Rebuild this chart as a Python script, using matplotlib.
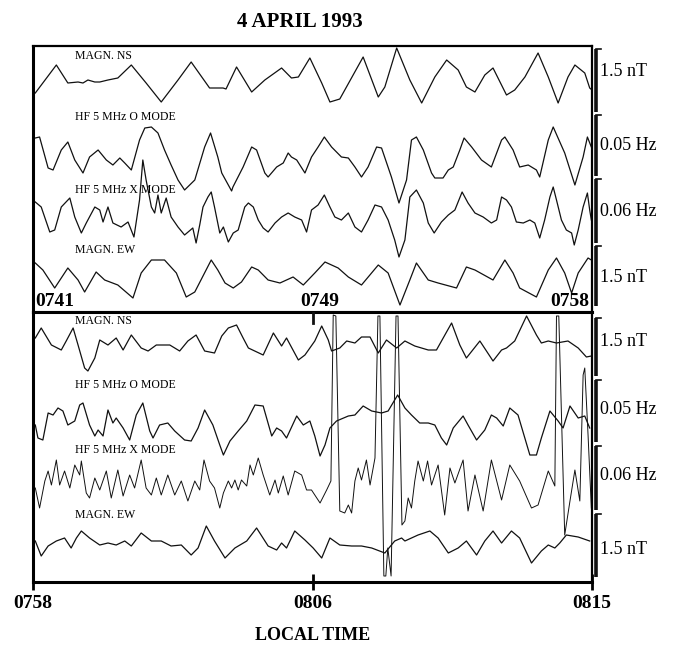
import matplotlib
matplotlib.use("Agg")
import matplotlib.pyplot as plt

# ---- data (time in minutes from panel start, amplitude in arbitrary units) ----
# top panel: 0741 - 0758
top_ns_t = [0.07, 0.71, 1.06, 1.37, 1.52, 1.67, 1.88, 2.03, 2.28, 2.58, 2.99, 3.44, 3.90, 4.41, 4.81, 5.37,
            5.78, 5.87, 6.19, 6.65, 7.05, 7.56, 7.86, 8.07, 8.42, 8.78, 9.03, 9.33, 10.04, 10.50, 10.70, 11.06,
            11.46, 11.82, 12.22, 12.58, 12.93, 13.18, 13.44, 13.74, 13.99, 14.40, 14.65, 14.96, 15.36, 15.67,
            15.97, 16.27, 16.48, 16.78, 16.93, 17.0]
top_ns_v = [-8, 20, 2, 3, 2, 5, 3, 3, 5, 7, 20, 2, -17, 5, 23, -3,
            -3, -4, 18, -7, 5, 17, 7, 8, 27, 2, -17, -14, 28, -12, -2, 37,
            5, -18, 8, 25, 15, -2, -7, 10, 17, -10, -5, 8, 32, 8,
            -18, 8, 20, 12, -3, -5]

top_o_t = [0.07, 0.20, 0.46, 0.61, 0.86, 1.06, 1.27, 1.52, 1.72, 1.98, 2.23, 2.43, 2.64, 2.79, 2.99, 3.24,
           3.40, 3.60, 3.80, 4.00, 4.20, 4.41, 4.61, 4.92, 5.22, 5.40, 5.62, 5.74, 6.04, 6.08, 6.39, 6.65,
           6.80, 7.05, 7.15, 7.41, 7.61, 7.76, 7.86, 8.02, 8.27, 8.47, 8.67, 8.86, 9.08, 9.38, 9.59, 9.79,
           9.99, 10.19, 10.45, 10.60, 10.90, 11.13, 11.36, 11.51, 11.66, 11.87, 12.12, 12.22, 12.47, 12.63,
           12.78, 12.98, 13.11, 13.34, 13.64, 13.94, 14.25, 14.35, 14.60, 14.80, 15.06, 15.31, 15.41, 15.67,
           15.82, 16.17, 16.48, 16.73, 16.86, 16.98]
top_o_v = [22, 23, -8, -10, 10, 18, 0, -13, 3, 10, 0, -5, 2, -3, -10, 20,
           32, 33, 27, 10, -5, -20, -30, -20, 13, 27, 3, -13, -31, -27, -7, 13,
           10, -13, -17, -7, -3, 7, 3, 0, -13, 3, 13, 23, 13, 3, 2, -7,
           -17, -7, 13, 12, -17, -43, -20, 20, 23, 10, -13, -18, -18, -10,
           -7, 10, 22, 13, 0, -7, 20, 23, 10, -7, -5, -10, -17, 20,
           33, 7, -25, 3, 23, 13]

top_x_t = [0.07, 0.25, 0.51, 0.66, 0.86, 1.12, 1.27, 1.47, 1.62, 1.88, 2.03, 2.13, 2.28, 2.43, 2.68, 2.89,
           3.07, 3.24, 3.34, 3.44, 3.60, 3.70, 3.80, 3.90, 4.05, 4.20, 4.41, 4.61, 4.86, 4.96, 5.07, 5.17,
           5.32, 5.42, 5.52, 5.68, 5.79, 5.94, 6.09, 6.24, 6.44, 6.55, 6.70, 6.85, 7.00, 7.15, 7.36, 7.56,
           7.76, 7.96, 8.17, 8.32, 8.47, 8.67, 8.86, 9.03, 9.18, 9.38, 9.59, 9.79, 9.99, 10.19, 10.40, 10.60,
           10.80, 11.00, 11.13, 11.31, 11.46, 11.66, 11.87, 12.02, 12.20, 12.42, 12.63, 12.83, 13.05, 13.23,
           13.44, 13.69, 13.94, 14.10, 14.25, 14.40, 14.55, 14.70, 14.91, 15.11, 15.26, 15.41, 15.56, 15.72,
           15.82, 15.92, 16.07, 16.22, 16.38, 16.46, 16.58, 16.73, 16.86, 16.93, 16.98]
top_x_v = [13, 8, -17, -15, 8, 17, -2, -18, -8, 8, 5, -7, 8, -8, -12, -7,
           -22, 15, 55, 35, 8, 2, 20, 2, 17, -2, -12, -20, -13, -28, -10, 8,
           18, 23, 8, -18, -12, -27, -18, -15, 8, 12, 8, -5, -13, -17, -8, -2,
           2, -2, -5, -17, 5, 10, 20, 8, -2, -5, 2, -12, -17, -5, 10, 8,
           -5, -25, -42, -25, 18, 25, 12, -8, -18, -7, 0, 5, 23, 12,
           2, -2, -8, -5, 18, 15, 8, -7, -8, -5, -8, -23, -5, 18,
           28, 15, -5, -15, -18, -30, -15, 8, 22, 5, -5]

top_ew_t = [0.07, 0.30, 0.66, 1.06, 1.37, 1.57, 1.92, 2.18, 2.58, 3.04, 3.29, 3.60, 4.00, 4.36, 4.66, 4.92,
            5.42, 5.62, 5.84, 6.09, 6.34, 6.65, 6.85, 7.15, 7.51, 7.91, 8.22, 8.57, 8.88, 9.28, 9.59, 9.99,
            10.50, 10.80, 11.16, 11.46, 11.66, 12.02, 12.32, 12.88, 13.18, 13.44, 13.99, 14.35, 14.60, 14.80,
            15.31, 15.67, 15.92, 16.17, 16.38, 16.58, 16.88, 16.98]
top_ew_v = [17, 10, -8, 12, 0, -12, 8, 0, -5, -18, 7, 20, 20, 7, -17, -12,
            20, 10, -3, -8, -2, 13, 10, 0, -3, 3, -5, 7, 18, 12, 3, -5,
            15, 7, -25, 0, 17, 0, -3, -8, 13, 10, 0, 20, 7, -8,
            -17, 10, 22, 7, -13, 7, 22, 20]

# bottom panel: 0758 - 0815
bot_ns_t = [0.07, 0.25, 0.56, 0.86, 1.01, 1.22, 1.37, 1.57, 1.67, 1.88, 2.03, 2.28, 2.53, 2.74, 2.99, 3.29,
            3.50, 3.75, 4.16, 4.46, 4.71, 4.96, 5.22, 5.52, 5.74, 5.94, 6.19, 6.39, 6.55, 7.00, 7.31, 7.56,
            7.71, 8.07, 8.27, 8.57, 8.78, 8.98, 9.08, 9.33, 9.54, 9.79, 9.99, 10.25, 10.50, 10.75, 11.06,
            11.31, 11.61, 12.02, 12.27, 12.73, 12.98, 13.18, 13.59, 13.99, 14.25, 14.40, 14.65, 15.01, 15.31,
            15.46, 15.67, 15.92, 16.27, 16.58, 16.83, 16.98]
bot_ns_v = [7, 17, 0, -5, 4, 17, 0, -23, -26, -13, 5, 0, 7, -5, 10, -3,
            -6, 0, 0, -6, 4, 10, -6, -8, 9, 17, 20, 7, -3, -10, 12, -1,
            7, -15, -10, 4, 19, 5, -6, -3, 4, 2, 8, 8, -8, 5, -3,
            4, -1, -5, -5, 22, 0, -13, 4, -16, -5, -3, 4, 29, 10,
            2, 4, 2, 4, -3, -12, -11]

bot_o_t = [0.07, 0.15, 0.30, 0.46, 0.61, 0.76, 0.91, 1.06, 1.27, 1.42, 1.52, 1.72, 1.88, 1.98, 2.13, 2.28,
           2.43, 2.53, 2.74, 2.94, 3.14, 3.34, 3.55, 3.65, 3.85, 4.10, 4.31, 4.61, 4.81, 5.02, 5.22, 5.47,
           5.68, 5.79, 5.99, 6.24, 6.50, 6.75, 7.00, 7.26, 7.41, 7.56, 7.71, 8.02, 8.22, 8.42, 8.57, 8.73,
           8.88, 9.03, 9.23, 9.59, 9.79, 10.04, 10.30, 10.60, 10.80, 11.09, 11.31, 11.51, 11.76, 12.02,
           12.22, 12.42, 12.58, 12.78, 13.08, 13.23, 13.49, 13.74, 13.94, 14.10, 14.30, 14.50, 14.75, 15.11,
           15.31, 15.46, 15.72, 15.97, 16.12, 16.33, 16.58, 16.78, 16.93]
bot_o_v = [3, -10, -12, 15, 13, 20, 17, 3, 7, 23, 25, 3, -8, -2, -8, 18,
           5, 10, 0, -12, 13, 25, -3, -10, 3, 5, -3, -12, -13, 0, 18, 3,
           -17, -27, -13, -3, 7, 23, 22, -8, 0, -3, -10, 12, 3, 7, -8, -28,
           -17, 0, 7, 12, 13, 22, 17, 15, 17, 33, 20, 13, 5, 5,
           3, -10, -17, 0, 12, 3, -12, -2, 13, 10, 2, 20, 13, -27,
           -27, -10, 17, 7, 0, 22, 10, 12, 0]

bot_x_t = [0.07, 0.20, 0.36, 0.46, 0.56, 0.71, 0.81, 0.96, 1.12, 1.27, 1.42, 1.47, 1.62, 1.72, 1.88, 2.03,
           2.23, 2.38, 2.58, 2.74, 2.94, 3.09, 3.29, 3.44, 3.60, 3.75, 3.90, 4.10, 4.31, 4.51, 4.71, 4.92,
           5.07, 5.20, 5.37, 5.52, 5.68, 5.79, 5.94, 6.04, 6.14, 6.24, 6.34, 6.50, 6.60, 6.70, 6.85, 7.00,
           7.20, 7.36, 7.46, 7.61, 7.76, 7.96, 8.17, 8.32, 8.47, 8.73, 8.93, 9.06, 9.13, 9.21, 9.33, 9.48,
           9.59, 9.69, 9.79, 9.89, 9.99, 10.14, 10.25, 10.40, 10.49, 10.55, 10.67, 10.73, 10.79, 10.89,
           11.04, 11.10, 11.22, 11.31, 11.41, 11.51, 11.61, 11.71, 11.87, 12.00, 12.12, 12.32, 12.52, 12.68,
           12.83, 13.08, 13.23, 13.44, 13.69, 13.94, 14.25, 14.50, 14.80, 15.16, 15.36, 15.67, 15.87, 15.92,
           15.99, 16.17, 16.33, 16.48, 16.63, 16.73, 16.78, 16.88, 16.98]
bot_x_v = [0, -20, 7, 17, 3, 28, 3, 17, 0, 23, 13, 27, -5, -10, 10, -2,
           17, -10, 18, -8, 13, 0, 28, 0, -7, 10, -7, 13, -7, 7, -13, 7,
           -2, 28, 7, 0, -20, -5, 7, 0, 8, -2, 8, 2, 23, 13, 30, 13,
           -7, 8, -5, 12, -7, 17, 13, -2, -2, -15, -2, 7, 173, 172, -23, -25,
           -17, -25, 7, 20, 8, 28, 3, 30, 172, 172, -88, -88, -60, -88,
           172, 172, -37, -33, -10, -20, 7, 27, 7, 27, 3, 23, -27, 20,
           5, 28, -23, 13, -23, 28, -12, 23, 7, -20, -17, 17, 2, 172,
           172, -47, -13, 18, -13, 113, 120, 53, -20]

bot_ew_t = [0.07, 0.25, 0.46, 0.71, 0.96, 1.16, 1.32, 1.47, 1.72, 2.03, 2.28, 2.53, 2.79, 2.99, 3.29, 3.60,
            3.90, 4.20, 4.51, 4.81, 5.02, 5.27, 5.52, 5.84, 6.14, 6.50, 6.80, 7.15, 7.41, 7.56, 7.71, 7.96,
            8.27, 8.52, 8.78, 9.03, 9.33, 9.69, 9.99, 10.30, 10.70, 11.00, 11.21, 11.31, 11.71, 12.07, 12.32,
            12.63, 12.93, 13.18, 13.49, 13.74, 13.99, 14.25, 14.55, 14.80, 15.16, 15.46, 15.67, 15.87, 16.02,
            16.22, 16.58, 16.93]
bot_ew_v = [2, -13, -3, 2, 5, -5, 5, 12, 5, -2, 0, -2, 2, -3, 10, 2,
            2, -3, -2, -12, -5, 17, 2, -15, -5, 2, 15, -3, -7, 0, -5, 12,
            3, -5, -15, 5, -2, -3, -3, -5, -10, 2, 5, 2, 8, 12, 5,
            -10, -5, 2, -12, 2, 12, 0, 12, 5, -20, -8, -2, -5, 0,
            8, 6, 2]

trace_names = ["MAGN. NS", "HF 5 MHz O MODE", "HF 5 MHz X MODE", "MAGN. EW"]
scale_labels = ["1.5 nT", "0.05 Hz", "0.06 Hz", "1.5 nT"]
top_ticks = ["0741", "0749", "0758"]
bot_ticks = ["0758", "0806", "0815"]

SERIF = "Liberation Serif"
INK = "#111111"

fig = plt.figure(figsize=(6.76, 6.48), dpi=100)
W, H = 676, 648


def panel(y_top, y_bot):
    return fig.add_axes([33 / W, 1 - y_bot / H, 559 / W, (y_bot - y_top) / H])


ax_top = panel(46, 312)
ax_bot = panel(312, 582)

top_series = [(top_ns_t, top_ns_v, 227), (top_o_t, top_o_v, 152),
              (top_x_t, top_x_v, 97), (top_ew_t, top_ew_v, 32)]
bot_series = [(bot_ns_t, bot_ns_v, 237), (bot_o_t, bot_o_v, 154),
              (bot_x_t, bot_x_v, 94), (bot_ew_t, bot_ew_v, 39)]

for ax, series, h in [(ax_top, top_series, 266), (ax_bot, bot_series, 270)]:
    for i, (t, v, off) in enumerate(series):
        lw = 0.7 if (ax is ax_bot and i == 2) else 0.9
        ax.plot(t, [off + a for a in v], color=INK, lw=lw)
    ax.set_xlim(0, 17)
    ax.set_ylim(0, h)
    ax.set_yticks([])
    for s in ax.spines.values():
        s.set_linewidth(1.6)
    ax.spines["left"].set_linewidth(2.2)

ax_top.set_xticks([])
ax_top.spines["bottom"].set_linewidth(2.2)
ax_bot.spines["top"].set_linewidth(2.2)
ax_bot.spines["bottom"].set_linewidth(2.2)
ax_bot.set_xticks([0, 8.5, 17])
ax_bot.set_xticklabels(bot_ticks, fontfamily=SERIF, fontweight="bold", fontsize=14)
ax_bot.tick_params(axis="x", direction="inout", length=11, width=2, pad=4)

# overlay in pixel units for labels and scale bars
ov = fig.add_axes([0, 0, 1, 1], facecolor="none")
ov.set_xlim(0, W)
ov.set_ylim(H, 0)
ov.axis("off")

ov.text(300, 22, "4 APRIL 1993", ha="center", va="center", fontfamily=SERIF,
        fontweight="bold", fontsize=15)
ov.text(313, 636, "LOCAL TIME", ha="center", va="center", fontfamily=SERIF,
        fontweight="bold", fontsize=13)

for name, y in zip(trace_names, [56, 117, 190, 250]):
    ov.text(75, y, name, ha="left", va="center", fontfamily=SERIF, fontsize=8.5)
for name, y in zip(trace_names, [321, 385, 450, 515]):
    ov.text(75, y, name, ha="left", va="center", fontfamily=SERIF, fontsize=8.5)

for lab, x, ha in zip(top_ticks, [35, 320, 589], ["left", "center", "right"]):
    ov.text(x, 302, lab, ha=ha, va="center", fontfamily=SERIF, fontweight="bold", fontsize=14)
ov.plot([313, 313], [313, 323], color=INK, lw=2)

top_bars = [(47, 113), (113, 177), (177, 244), (244, 307)]
bot_bars = [(316, 377), (378, 443), (444, 511), (512, 578)]
for bars, label_y in [(top_bars, [72, 146, 212, 278]), (bot_bars, [341, 410, 476, 549])]:
    for (y0, y1), lab, ly in zip(bars, scale_labels, label_y):
        ov.plot([596, 596], [y0 + 1.5, y1 - 1.5], color=INK, lw=2.6, solid_capstyle="butt")
        ov.plot([596, 601], [y0 + 1.5, y0 + 1.5], color=INK, lw=1.2)
        ov.text(600, ly, lab, ha="left", va="center", fontfamily=SERIF, fontsize=13)

fig.savefig("out.png", dpi=100)
